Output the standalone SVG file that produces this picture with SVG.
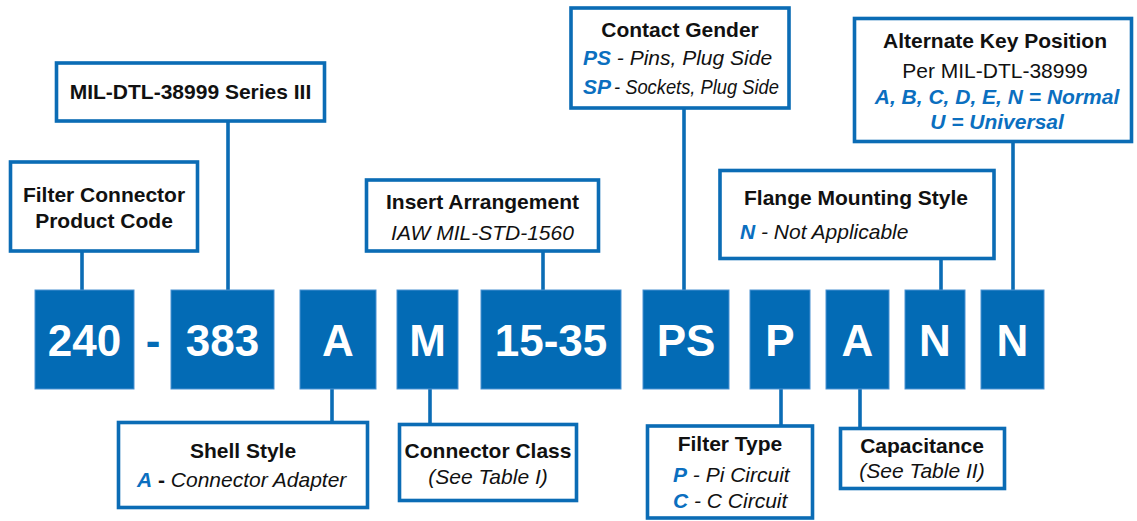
<svg xmlns="http://www.w3.org/2000/svg" width="1137" height="521" viewBox="0 0 1137 521">
<style>
.lbl{fill:#fff;stroke:#0b6cb5;stroke-width:3.6}
.code{fill:#036bb5;stroke:#4a92d2;stroke-width:1}
.ct{font-family:"Liberation Sans",Arial,sans-serif;font-weight:bold;font-size:44px;fill:#fff;text-anchor:middle}
.h{font-family:"Liberation Sans",Arial,sans-serif;font-weight:bold;font-size:21px;fill:#111;text-anchor:middle}
.t{font-family:"Liberation Sans",Arial,sans-serif;font-size:21px;fill:#111}
.i{font-style:italic}
.b{fill:#0b6fbf;font-weight:bold;font-style:italic}
.c{text-anchor:middle}
.ln{stroke:#0b6cb5;stroke-width:3.6;fill:none}
</style>
<g id="connectors">
<line class="ln" x1="82" y1="252" x2="82" y2="290"/>
<line class="ln" x1="228" y1="121" x2="228" y2="290"/>
<line class="ln" x1="543" y1="252" x2="543" y2="290"/>
<line class="ln" x1="684" y1="109" x2="684" y2="290"/>
<line class="ln" x1="941" y1="259" x2="941" y2="290"/>
<line class="ln" x1="1013" y1="142" x2="1013" y2="290"/>
<line class="ln" x1="332" y1="389" x2="332" y2="422"/>
<line class="ln" x1="430" y1="389" x2="430" y2="424"/>
<line class="ln" x1="781" y1="389" x2="781" y2="425"/>
<line class="ln" x1="860" y1="389" x2="860" y2="428"/>
</g>
<g id="code-240"><rect class="code" x="35" y="290" width="99" height="99"/><text class="ct" x="84.5" y="356">240</text></g>
<g id="dash"><text x="153" y="356" font-family="Liberation Sans,Arial,sans-serif" font-weight="bold" font-size="44" fill="#036bb5" text-anchor="middle">-</text></g>
<g id="code-383"><rect class="code" x="171" y="290" width="103" height="99"/><text class="ct" x="222.5" y="356">383</text></g>
<g id="code-A"><rect class="code" x="300" y="290" width="76" height="99"/><text class="ct" x="338" y="356">A</text></g>
<g id="code-M"><rect class="code" x="397" y="290" width="61" height="99"/><text class="ct" x="427.5" y="356">M</text></g>
<g id="code-1535"><rect class="code" x="481" y="290" width="140" height="99"/><text class="ct" x="551" y="356">15-35</text></g>
<g id="code-PS"><rect class="code" x="643" y="290" width="86" height="99"/><text class="ct" x="686" y="356">PS</text></g>
<g id="code-P"><rect class="code" x="750" y="290" width="60" height="99"/><text class="ct" x="780" y="356">P</text></g>
<g id="code-A2"><rect class="code" x="826" y="290" width="63" height="99"/><text class="ct" x="857.5" y="356">A</text></g>
<g id="code-N1"><rect class="code" x="905" y="290" width="60" height="99"/><text class="ct" x="935" y="356">N</text></g>
<g id="code-N2"><rect class="code" x="981" y="290" width="63" height="99"/><text class="ct" x="1012.5" y="356">N</text></g>

<g id="series"><rect class="lbl" x="56.5" y="63" width="268" height="58"/><text class="h" x="190.5" y="99">MIL-DTL-38999 Series III</text></g>
<g id="product-code"><rect class="lbl" x="10.5" y="162" width="187" height="89"/><text class="h" x="104" y="202">Filter Connector</text><text class="h" x="104" y="228">Product Code</text></g>
<g id="insert"><rect class="lbl" x="366.5" y="180" width="232" height="71"/><text class="h" x="482.5" y="209">Insert Arrangement</text><text class="t i c" x="482.5" y="240">IAW MIL-STD-1560</text></g>
<g id="contact"><rect class="lbl" x="571" y="8" width="218" height="100"/><text class="h" x="680" y="37">Contact Gender</text><text class="t i" x="583" y="65"><tspan class="b">PS</tspan> - Pins, Plug Side</text><text class="t b" x="583" y="94">SP</text><text class="t i" x="614" y="94" textLength="165" lengthAdjust="spacingAndGlyphs">- Sockets, Plug Side</text></g>
<g id="altkey"><rect class="lbl" x="854.5" y="18.5" width="277" height="123"/><text class="h" x="995" y="48">Alternate Key Position</text><text class="t c" x="995" y="78">Per MIL-DTL-38999</text><text class="t c b" x="997" y="104">A, B, C, D, E, N = Normal</text><text class="t c b" x="997" y="129">U = Universal</text></g>
<g id="flange"><rect class="lbl" x="720" y="170.5" width="274" height="88"/><text class="h" x="856" y="205">Flange Mounting Style</text><text class="t i" x="740" y="239"><tspan class="b">N</tspan> - Not Applicable</text></g>
<g id="shell"><rect class="lbl" x="118.5" y="422.5" width="249" height="85"/><text class="h" x="243" y="458">Shell Style</text><text class="t i" x="137" y="487"><tspan class="b">A</tspan><tspan font-weight="bold" font-style="normal"> - </tspan>Connector Adapter</text></g>
<g id="class"><rect class="lbl" x="399.5" y="424.5" width="177" height="76"/><text class="h" x="488" y="458">Connector Class</text><text class="t i c" x="488" y="484">(See Table I)</text></g>
<g id="filter-type"><rect class="lbl" x="647.5" y="426" width="165" height="92"/><text class="h" x="730" y="451">Filter Type</text><text class="t i" x="673" y="482"><tspan class="b">P</tspan> - Pi Circuit</text><text class="t i" x="673" y="508"><tspan class="b">C</tspan> - C Circuit</text></g>
<g id="capacitance"><rect class="lbl" x="840.5" y="428.5" width="164" height="60"/><text class="h" x="922" y="453">Capacitance</text><text class="t i c" x="922" y="478">(See Table II)</text></g>
</svg>
